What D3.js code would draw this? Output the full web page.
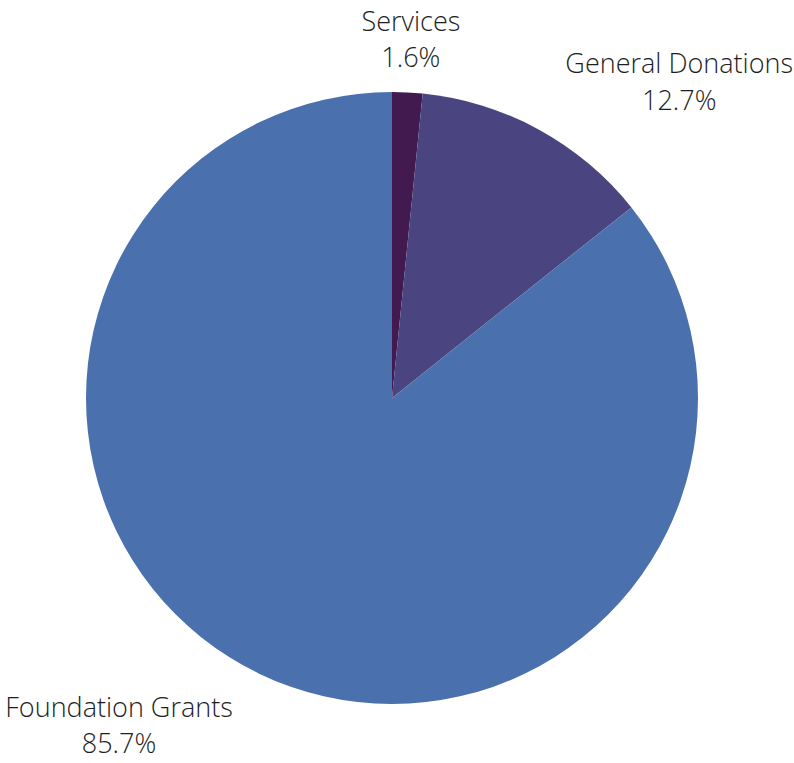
<!DOCTYPE html>
<html><head><meta charset="utf-8">
<script src="https://cdn.jsdelivr.net/npm/d3@7"></script>
<style>body{margin:0;background:#fff}svg{display:block}text{font-family:"Open Sans",sans-serif;font-weight:300;fill:#1e1e1e}</style>
</head><body><svg id="c" width="794" height="763"></svg>
<script>
const categories = ["Services", "General Donations", "Foundation Grants"];
const values = [1.6, 12.7, 85.7];
const colors = ["#421a50", "#4a4580", "#4a71ad"];

const svg = d3.select("#c");
const cx = 392, cy = 398, r = 306;
const g = svg.append("g").attr("transform", `translate(${cx},${cy})`);
const pie = d3.pie().sort(null).value(d => d.v);
const data = pie(categories.map((c, i) => ({c, v: values[i], col: colors[i]})));
const arc = d3.arc().innerRadius(0).outerRadius(r);
g.selectAll("path").data(data).join("path").attr("d", arc).attr("fill", d => d.data.col);

const fs = 27, lh = 36.5;
data.forEach(d => {
  const a = (d.startAngle + d.endAngle) / 2;
  const px = Math.sin(a) * (r + 10), py = -Math.cos(a) * (r + 10);
  const t = g.append("text").attr("font-size", fs).attr("text-anchor", "middle");
  const l1 = t.append("tspan").text(d.data.c);
  const l2 = t.append("tspan").text(d.data.v.toFixed(1) + "%");
  const w = Math.max(l1.node().getComputedTextLength(), l2.node().getComputedTextLength());
  let x, b1;
  if (Math.abs(Math.sin(a)) < 0.2) { x = px + 3; b1 = py - 15 - lh; }
  else if (Math.sin(a) > 0) { x = px + 22 + w / 2; b1 = py - 11 - lh; }
  else { x = px - 22 - w / 2; b1 = py + 34; }
  l1.attr("x", x).attr("y", b1);
  l2.attr("x", x).attr("y", b1 + lh);
});
</script></body></html>
